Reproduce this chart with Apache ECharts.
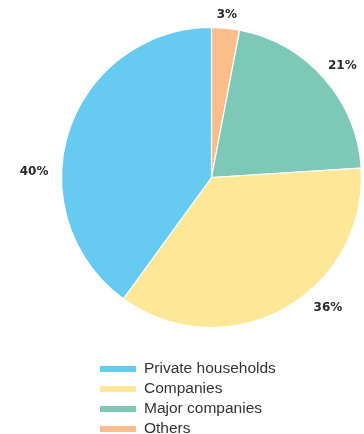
<!DOCTYPE html>
<html>
<head>
<meta charset="utf-8">
<script src="https://cdn.jsdelivr.net/npm/echarts@6/dist/echarts.min.js"></script>
<style>
  html, body { margin: 0; padding: 0; background: #ffffff; }
  #chart { width: 364px; height: 434px; }
</style>
</head>
<body>
<div id="chart"></div>
<script>
// Slices in clockwise order starting at 12 o'clock
const categories = ['Others', 'Major companies', 'Companies', 'Private households'];
const shares = [3, 21, 36, 40];
const legendOrder = ['Private households', 'Companies', 'Major companies', 'Others'];

const sliceColors = {
  'Others': '#fbbd8b',
  'Major companies': '#7dc8b6',
  'Companies': '#fee796',
  'Private households': '#67caf1'
};

// Small nudges of the percentage labels away from their default outside spot
const labelNudge = [[-15, -1], [-10, -4], [19, -12], [-4, 44]];

const chart = echarts.init(document.getElementById('chart'), null, { renderer: 'canvas' });

chart.setOption({
  animation: false,
  backgroundColor: '#ffffff',
  legend: {
    orient: 'vertical',
    left: 98,
    top: 361,
    height: 100,
    padding: 0,
    data: legendOrder,
    itemWidth: 38,
    itemHeight: 8,
    itemGap: 4,
    icon: 'rect',
    selectedMode: false,
    textStyle: {
      fontFamily: 'Liberation Sans, Arial, sans-serif',
      fontSize: 15.5,
      lineHeight: 15,
      color: '#333333',
      padding: [0, 0, 0, 2]
    }
  },
  series: [{
    type: 'pie',
    center: [211.5, 177.5],
    radius: [0, 150],
    startAngle: 90,
    clockwise: true,
    avoidLabelOverlap: false,
    itemStyle: { borderColor: '#ffffff', borderWidth: 1.2 },
    label: {
      show: true,
      position: 'outside',
      formatter: '{c}%',
      fontFamily: 'DejaVu Sans, sans-serif',
      fontWeight: 'bold',
      fontSize: 12,
      color: '#2a2a2a'
    },
    labelLine: { show: false, length: 12, length2: 0 },
    labelLayout: function (params) {
      const n = labelNudge[params.dataIndex];
      return { dx: n[0], dy: n[1] };
    },
    emphasis: { disabled: true },
    data: categories.map((name, i) => ({
      name: name,
      value: shares[i],
      itemStyle: { color: sliceColors[name] }
    }))
  }]
});
</script>
</body>
</html>
